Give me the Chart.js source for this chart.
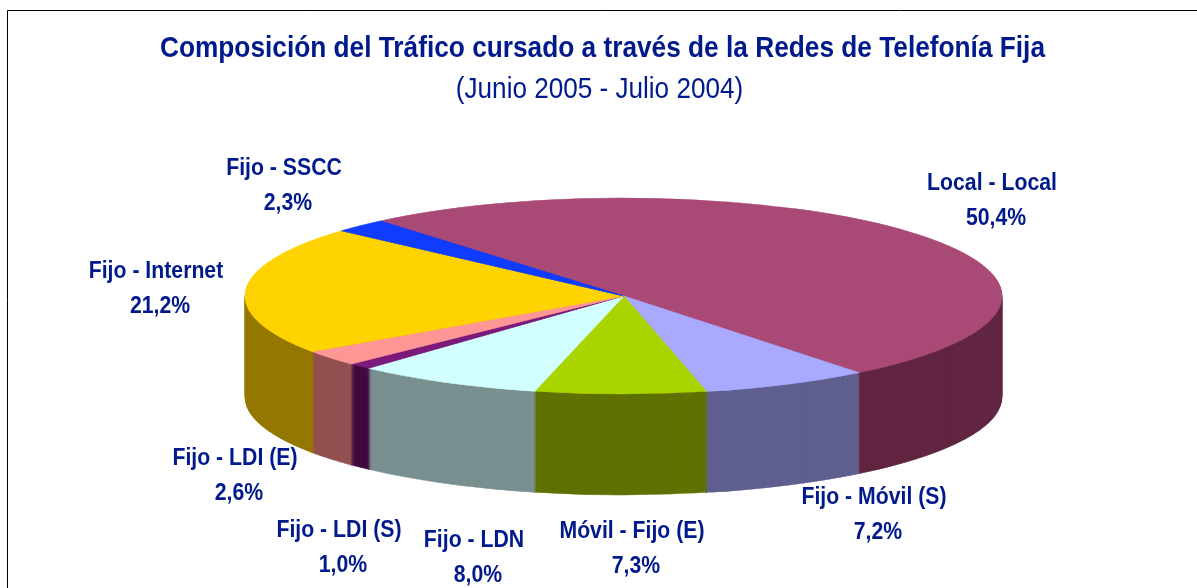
<!DOCTYPE html>
<html><head><meta charset="utf-8">
<style>html,body{margin:0;padding:0;background:#fff}canvas{display:block}#w{width:1197px;height:588px;position:relative}</style>
<script src="https://cdn.jsdelivr.net/npm/chart.js@4"></script>
</head><body><div id="w"><canvas id="c"></canvas></div>
<script>
const categories = ['Local - Local','Fijo - Móvil (S)','Móvil - Fijo (E)','Fijo - LDN','Fijo - LDI (S)','Fijo - LDI (E)','Fijo - Internet','Fijo - SSCC'];
const shares = [50.4,7.2,7.3,8.0,1.0,2.6,21.2,2.3];
const topColors = ['#A94A76','#A8A9FF','#A9D400','#D2FFFF','#7B1A7B','#FF9696','#FFD300','#0F3CFF'];
const wallColors = ['#622642','#606090','#5F7200','#7A9090','#430A40','#935050','#947800','#0A2490'];
const labelPos = [[992,183],[874,497],[632,531],[474,540],[339,530],[235,458],[156,271],[284,168]];
const titleText = 'Composición del Tráfico cursado a través de la Redes de Telefonía Fija';
const subtitleText = '(Junio 2005 - Julio 2004)';
const NAVY = '#001A8C';
const FONT = '"Liberation Sans",Arial,sans-serif';
const CX=623.5, CY=296, RX=378, RY=98, DEPTH=101;
const LABEL_SQUEEZE=0.885, TITLE_SQUEEZE=0.875, SUB_SQUEEZE=0.87;

const ArcEl = Chart.elements.ArcElement;
const squeeze=(block,cx,k)=>{
  if(!block||block._sq) return;
  block._sq=true;
  const orig=block.draw;
  block.draw=function(){
    const ctx=this.ctx;
    ctx.save();ctx.translate(cx,0);ctx.scale(k,1);ctx.translate(-cx,0);
    orig.apply(this,arguments);
    ctx.restore();
  };
};
const pie3d = {
  id:'pie3d',
  beforeDraw(chart){
    const ctx=chart.ctx;
    ctx.save();ctx.fillStyle='#fff';ctx.fillRect(0,0,chart.width,chart.height);ctx.restore();
    squeeze(chart.titleBlock,602.5,TITLE_SQUEEZE);
    squeeze(chart.boxes.filter(b=>b!==chart.titleBlock&&b.options&&b.options.text===subtitleText)[0],579.4,SUB_SQUEEZE);
  },
  beforeDatasetsDraw(chart){
    const ctx=chart.ctx, arcs=chart.getDatasetMeta(0).data;
    const place=(arc,d)=>{
      const sx=RX/arc.outerRadius, sy=RY/arc.outerRadius;
      ctx.setTransform(sx,0,0,sy,CX-arc.x*sx,CY+d-arc.y*sy);
    };
    const drawAs=(arc,color)=>{
      const a=new ArcEl({x:arc.x,y:arc.y,startAngle:arc.startAngle,endAngle:arc.endAngle,
        innerRadius:0,outerRadius:arc.outerRadius,circumference:arc.circumference,
        options:{backgroundColor:color,borderColor:color,borderWidth:1,borderAlign:'center',
          offset:0,spacing:0,borderRadius:0,circular:true,selfJoin:false,borderDash:[],borderDashOffset:0,borderJoinStyle:'round'}});
      a.draw(ctx);
    };
    ctx.save();
    for(let d=DEPTH;d>=1;d--){
      arcs.forEach((arc,i)=>{place(arc,d);drawAs(arc,wallColors[i]);});
    }
    arcs.forEach((arc,i)=>{place(arc,0);drawAs(arc,topColors[i]);});
    ctx.restore();
    return false;
  },
  afterDraw(chart){
    const ctx=chart.ctx;
    ctx.save();
    ctx.strokeStyle='#000';ctx.lineWidth=1;
    ctx.beginPath();ctx.moveTo(7.5,600);ctx.lineTo(7.5,10.5);ctx.lineTo(1200,10.5);ctx.stroke();
    ctx.fillStyle=NAVY;ctx.textAlign='center';ctx.textBaseline='middle';
    ctx.font='bold 24px '+FONT;
    const put=(t,x,y)=>{ctx.save();ctx.translate(x,y);ctx.scale(LABEL_SQUEEZE,1);ctx.fillText(t,0,0);ctx.restore();};
    categories.forEach((c,i)=>{
      const [x,y]=labelPos[i];
      put(c,x,y);
      put(shares[i].toFixed(1).replace('.',',')+'%',x+4,y+35.5);
    });
    ctx.restore();
  }
};
new Chart(document.getElementById('c'),{
  type:'pie',
  data:{labels:categories,datasets:[{data:shares,backgroundColor:topColors,borderWidth:0}]},
  plugins:[pie3d],
  options:{
    responsive:true,maintainAspectRatio:false,animation:false,
    rotation:-40,
    layout:{padding:{left:8,top:0,right:0,bottom:0}},
    plugins:{
      legend:{display:false},tooltip:{enabled:false},
      title:{display:true,text:titleText,color:NAVY,font:{family:FONT,size:30,weight:'bold'},padding:{top:31,bottom:0}},
      subtitle:{display:true,text:subtitleText,color:NAVY,font:{family:FONT,size:30,weight:'normal'},padding:{top:5,bottom:0}}
    }
  }
});
</script></body></html>
